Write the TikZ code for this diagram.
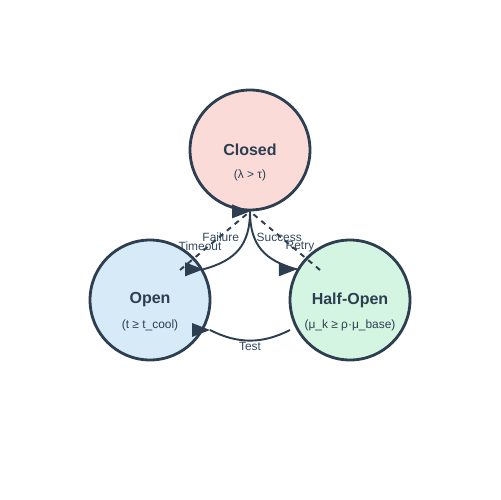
\documentclass[tikz,border=0pt]{standalone}
\usepackage{fontspec}
\setmainfont{Liberation Sans}
\usetikzlibrary{positioning, calc}
\definecolor{ink}{HTML}{2C3E50}
\definecolor{labelink}{HTML}{34495E}
\definecolor{closedfill}{HTML}{FADBD8}
\definecolor{openfill}{HTML}{D6EAF8}
\definecolor{halffill}{HTML}{D5F5E3}
\tikzstyle{state} = [circle, minimum size=2.4cm, inner sep=0pt,
    draw=ink, line width=1.6pt, text=ink, font=\fontsize{9.1}{11}\selectfont\bfseries]
\tikzstyle{cond} = [text=ink, inner sep=0pt, font=\fontsize{6.8}{8}\selectfont]
\tikzstyle{edgelabel} = [text=labelink, inner sep=0pt, font=\fontsize{6.8}{8}\selectfont]
\tikzstyle{edge} = [draw=ink, line width=1.1pt]
\tikzstyle{retry} = [edge, dash pattern=on 3pt off 2.8pt]
\newcommand{\headat}[1]{\fill[ink] (#1) -- ++(-18,-7) -- ++(0,14) -- cycle;}

\begin{document}
\begin{tikzpicture}[x=0.02cm, y=-0.02cm]
                \useasboundingbox (0,0) rectangle (500,500);
                \node (closed) [state, fill=closedfill] at (250,150) {Closed};
                \node (open) [state, fill=openfill] at (150,300) {Open};
                \node (halfopen) [state, fill=halffill] at (350,300) {Half-Open};
                \node (closedcond) [cond] at ([yshift=-0.5cm]closed.center) {(λ > τ)};
                \node (opencond) [cond] at ([yshift=-0.5cm]open.center) {(t ≥ t\_cool)};
                \node (halfcond) [cond] at ([yshift=-0.5cm]halfopen.center) {(μ\_k ≥ ρ·μ\_base)};

                \coordinate (timeoutstart) at ($(open)+(30,-30)$);
                \coordinate (retrystart) at ($(halfopen)+(-30,-30)$);
                \coordinate (teststart) at ($(halfopen)+(-60,30)$);
                \coordinate (testend) at ($(open)+(60,30)$);

                \draw [edge] (closed.south) to[out=-90, in=15, looseness=1.15]
                    node[edgelabel, xshift=-0.36cm, yshift=0.25cm] {Failure} (open.30);
                \draw [retry] (timeoutstart) --
                    node[edgelabel, xshift=-0.3cm, yshift=-0.12cm] {Timeout} (closed.south);
                \draw [edge] (closed.south) to[out=-90, in=165, looseness=1.15]
                    node[edgelabel, xshift=0.36cm, yshift=0.25cm] {Success} (halfopen.150);
                \draw [retry] (retrystart) --
                    node[edgelabel, xshift=0.3cm, yshift=-0.12cm] {Retry} (closed.south);
                \draw [edge] (teststart) to[out=-153, in=-27]
                    node[edgelabel, yshift=-0.11cm] {Test} (testend);

                \headat{open.30}
                \headat{closed.south}
                \headat{halfopen.150}
                \headat{testend}
            \end{tikzpicture}
\end{document}
